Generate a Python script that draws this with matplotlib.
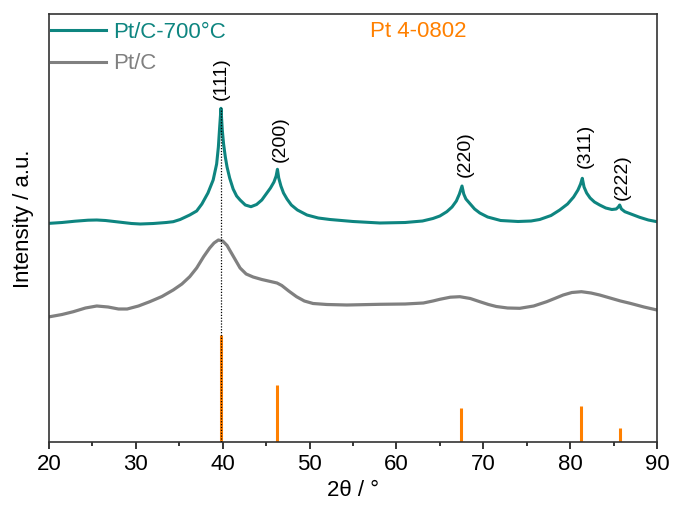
import matplotlib
matplotlib.use("Agg")
import matplotlib.pyplot as plt
from matplotlib.lines import Line2D
import matplotlib.transforms as mtransforms

plt.rcParams['font.family'] = ['Liberation Sans', 'DejaVu Sans']

# ---- data ----
two_theta_700 = [20.1, 21.5, 23.0, 24.5, 25.5, 26.5, 28.0, 29.5, 30.5, 32.0, 33.5, 34.3, 35.1, 36.2, 37.0,
                 37.6, 38.3, 38.9, 39.3, 39.5, 39.65, 39.8, 39.95, 40.1, 40.3, 40.5, 40.8, 41.2, 41.6, 42.0,
                 42.6, 43.25, 43.9, 44.5, 45.0, 45.5, 45.9, 46.15, 46.3, 46.45, 46.7, 47.0, 47.4, 47.9, 48.6,
                 49.7, 51.0, 52.35, 55.0, 58.1, 61.0, 63.0, 64.2, 65.0, 65.8, 66.4, 66.9, 67.25, 67.55, 67.75,
                 68.0, 68.5, 69.0, 69.6, 70.5, 72.0, 74.0, 75.5, 76.5, 77.8, 78.8, 79.7, 80.4, 80.9, 81.2,
                 81.4, 81.6, 81.9, 82.3, 82.8, 83.4, 84.1, 84.8, 85.3, 85.55, 85.7, 85.9, 86.3, 87.0, 88.0,
                 89.0, 90.0]
intensity_700 = [218.7, 219.5, 220.8, 221.8, 222.0, 221.5, 220.0, 218.5, 218.0, 218.5, 219.5, 220.3, 222.5, 227.0, 231.0,
                 238.0, 249.0, 262.0, 278.0, 295.0, 315.0, 333.7, 312.0, 298.0, 285.0, 275.0, 264.0, 253.0, 246.0, 242.0,
                 237.0, 235.3, 237.5, 242.0, 248.0, 254.0, 260.0, 266.0, 272.7, 264.0, 256.0, 249.0, 243.0, 237.0, 232.0,
                 227.0, 224.0, 222.5, 220.5, 219.0, 219.5, 221.0, 223.5, 226.0, 230.3, 235.0, 241.0, 248.0, 256.0, 248.0,
                 243.0, 238.0, 233.0, 229.0, 225.0, 221.5, 220.5, 221.0, 222.5, 226.5, 232.0, 238.0, 245.0, 252.0, 258.0,
                 263.7, 255.0, 249.0, 244.0, 240.0, 237.0, 234.0, 232.5, 233.0, 235.0, 237.0, 233.0, 230.3, 228.0, 224.7,
                 222.0, 220.3]

two_theta_ptc = [20.1, 21.5, 22.8, 24.2, 25.5, 26.8, 28.0, 29.0, 30.3, 31.6, 33.0, 34.3, 35.3, 36.2, 37.0,
                 37.8, 38.5, 39.0, 39.5, 40.0, 40.5, 40.8, 41.4, 42.0, 42.7, 43.5, 44.5, 45.5, 46.25, 46.8,
                 47.6, 48.5, 49.4, 50.4, 52.0, 54.3, 58.1, 61.0, 63.1, 64.2, 65.0, 66.2, 67.3, 68.5, 69.6,
                 70.6, 71.5, 72.8, 74.2, 75.8, 77.3, 78.3, 79.2, 80.2, 81.3, 82.4, 83.4, 84.6, 85.8, 86.9,
                 88.5, 90.0]
intensity_ptc = [125.3, 127.5, 130.3, 134.0, 136.0, 135.0, 133.0, 133.0, 136.0, 140.3, 145.5, 152.0, 158.0, 165.3, 174.0,
                 185.3, 194.0, 199.0, 202.0, 201.0, 196.5, 192.0, 183.0, 174.0, 168.0, 165.0, 162.5, 160.5, 159.0, 156.5,
                 151.0, 145.3, 141.0, 138.5, 137.5, 137.0, 137.7, 138.0, 139.0, 141.0, 142.7, 144.8, 145.3, 143.5, 140.3,
                 137.5, 135.5, 134.0, 133.7, 136.0, 140.3, 143.8, 147.0, 149.5, 150.3, 149.0, 147.0, 144.0, 141.0, 138.7,
                 135.0, 132.0]

ref_positions = [39.76, 46.24, 67.45, 81.29, 85.71]
ref_intensity = [107.0, 57.0, 34.0, 36.0, 14.0]

hkl_labels = ['(111)', '(200)', '(220)', '(311)', '(222)']
hkl_x = [39.8, 46.6, 67.9, 81.7, 86.05]
hkl_y = [342.0, 280.0, 265.0, 274.0, 242.0]

xticks = [20, 30, 40, 50, 60, 70, 80, 90]

c_teal = '#0E8580'
c_grey = '#808080'
c_orange = '#FF8000'

# ---- figure ----
fig = plt.figure(figsize=(6.73, 5.07), dpi=100)
ax = fig.add_axes([49 / 673, (507 - 442) / 507, 608 / 673, 428 / 507])

ax.plot(two_theta_700, intensity_700, color=c_teal, lw=2.2, solid_joinstyle='round')
ax.plot(two_theta_ptc, intensity_ptc, color=c_grey, lw=2.3, solid_joinstyle='round')
ax.vlines(ref_positions, 0, ref_intensity, color=c_orange, lw=2.2)
ax.vlines([ref_positions[0]], 0, [max(intensity_700)], color='black', lw=0.9,
          linestyles=(0, (1, 1.3)), zorder=3)

for lab, xx, yy in zip(hkl_labels, hkl_x, hkl_y):
    ax.text(xx, yy, lab, rotation=90, ha='center', va='bottom', fontsize=14, color='black')

ax.set_xlim(20, 90)
ax.set_ylim(0, 428)
ax.set_xticks(xticks)
ax.set_xticks([25, 35, 45, 55, 65, 75, 85], minor=True)
ax.set_yticks([])
ax.tick_params(axis='x', which='major', direction='out', length=5, width=1.1, labelsize=16, pad=4)
ax.tick_params(axis='x', which='minor', direction='out', length=3, width=1.1)
for s in ax.spines.values():
    s.set_linewidth(1.2)
    s.set_color('#333333')

ax.set_xlabel('2θ / °', fontsize=16, labelpad=3)
ax.set_ylabel('Intensity / a.u.', fontsize=16, labelpad=11)
ax.yaxis.label.set_y((442 - 219) / 428)

handles = [Line2D([], [], color=c_teal, lw=2.2), Line2D([], [], color=c_grey, lw=2.2)]
leg = ax.legend(handles, ['Pt/C-700°C', 'Pt/C'], loc='upper left', frameon=False,
                fontsize=16, labelcolor='linecolor', handlelength=2.5, handletextpad=0.3,
                borderpad=0.0, borderaxespad=0.0, labelspacing=0.46,
                bbox_to_anchor=(0.003, 0.981))

trans = mtransforms.blended_transform_factory(ax.transData, ax.transAxes)
ax.text(57.0, (442 - 31.7) / 428, 'Pt 4-0802', transform=trans, color=c_orange,
        fontsize=16, ha='left', va='center')

fig.savefig('out.png', dpi=100)
